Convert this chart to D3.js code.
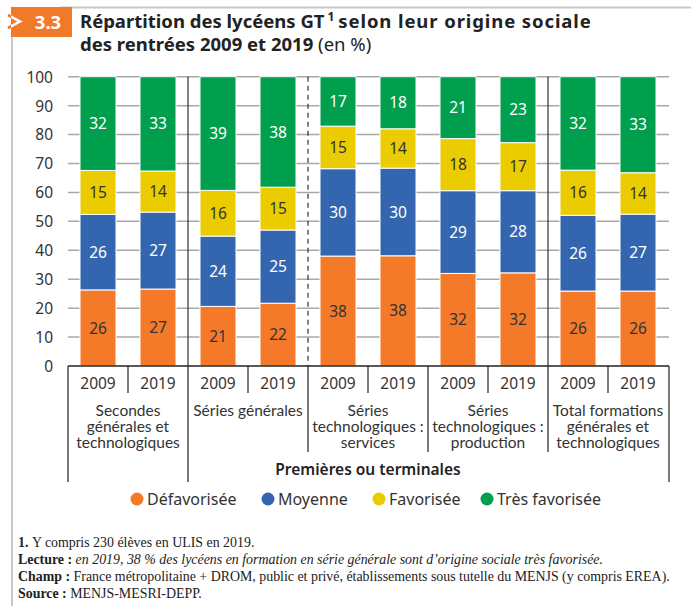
<!DOCTYPE html>
<html><head><meta charset="utf-8">
<script src="https://cdn.jsdelivr.net/npm/d3@7"></script>
<style>
html,body{margin:0;padding:0;background:#fff;}
svg{display:block;}
</style></head>
<body>
<script>
const categories = [
  ["Secondes", "générales et", "technologiques"],
  ["Séries générales"],
  ["Séries", "technologiques :", "services"],
  ["Séries", "technologiques :", "production"],
  ["Total formations", "générales et", "technologiques"]
];
const years = ["2009", "2019"];
const defavorisee   = [26.3, 26.6, 20.6, 21.7, 38.0, 38.1, 32.0, 32.2, 25.9, 25.9];
const moyenne       = [26.1, 26.6, 24.3, 25.3, 30.2, 30.3, 28.6, 28.4, 26.2, 26.6];
const favorisee     = [15.2, 14.2, 15.8, 14.8, 14.7, 13.6, 18.0, 16.6, 15.6, 14.3];
const tresFavorisee = [32.4, 32.6, 39.3, 38.2, 17.1, 18.0, 21.4, 22.8, 32.3, 33.2];
const seriesNames = ["Défavorisée", "Moyenne", "Favorisée", "Très favorisée"];
const yTicks = [0,10,20,30,40,50,60,70,80,90,100];
const groupLabel = "Premières ou terminales";
const footnotes = [
  [["1. ", "b"], ["Y compris 230 élèves en ULIS en 2019.", "n"]],
  [["Lecture : ", "b"], ["en 2019, 38 % des lycéens en formation en série générale sont d’origine sociale très favorisée.", "i"]],
  [["Champ : ", "b"], ["France métropolitaine + DROM, public et privé, établissements sous tutelle du MENJS (y compris EREA).", "n"]],
  [["Source : ", "b"], ["MENJS-MESRI-DEPP.", "n"]]
];

const colors = ["#F47A2A", "#3466B0", "#EACC00", "#009F4E"];
const textColors = ["#333", "#fff", "#333", "#fff"];
const FONT = "'Noto Sans', sans-serif";
const FONT2 = "Lato, 'Noto Sans', sans-serif";

const W = 691, H = 606;
const svg = d3.select("body").append("svg").attr("width", W).attr("height", H)
  .style("font-family", FONT);

// frame
svg.append("line").attr("x1",12).attr("x2",12).attr("y1",30).attr("y2",H).attr("stroke","#c8c8c8").attr("stroke-width",2);
svg.append("line").attr("x1",60).attr("x2",W).attr("y1",7.5).attr("y2",7.5).attr("stroke","#c8c8c8").attr("stroke-width",2);

// title box
svg.append("rect").attr("x",11).attr("y",7).attr("width",61).attr("height",30).attr("fill","#F07A2A");
svg.append("defs").append("clipPath").attr("id","boxclip").append("rect").attr("x",11).attr("y",7).attr("width",61).attr("height",30);
const chev = "M8,15 L20,21.5 L8,28";
svg.append("path").attr("d",chev).attr("fill","none").attr("stroke","#F07A2A").attr("stroke-width",2.6);
svg.append("path").attr("d",chev).attr("fill","none").attr("stroke","#fff").attr("stroke-width",2.6).attr("clip-path","url(#boxclip)");
svg.append("text").attr("x",48).attr("y",28.5).attr("text-anchor","middle").attr("fill","#fff")
  .attr("font-weight","bold").attr("font-size",18.5).text("3.3");

const t1 = svg.append("text").attr("x",80).attr("y",28).attr("fill","#222").attr("font-size",18.5).attr("font-weight","bold");
t1.append("tspan").text("Répartition des lycéens GT");
t1.append("tspan").attr("font-size",12).attr("dy",-7).attr("dx",3).text("1");
t1.append("tspan").attr("dy",7).attr("dx",4).attr("letter-spacing",0.9).text("selon leur origine sociale");
const t2 = svg.append("text").attr("x",80).attr("y",51).attr("fill","#222").attr("font-size",18.5);
t2.append("tspan").attr("font-weight","bold").text("des rentrées 2009 et 2019");
t2.append("tspan").attr("font-weight","normal").text(" (en %)");

// scales
const left = 68, right = 668;
const idx = d3.range(defavorisee.length);
const x = d3.scaleBand().domain(idx).range([left, right]).paddingInner(0.4).paddingOuter(0.2);
const y = d3.scaleLinear().domain([0,100]).range([366, 76.7]);

// grid
svg.append("g").selectAll("line").data(yTicks.filter(d=>d>0)).join("line")
  .attr("x1", left).attr("x2", right+1).attr("y1", d=>y(d)).attr("y2", d=>y(d))
  .attr("stroke","#a8a8a8").attr("stroke-width",1.5);

// y axis labels
const yAxis = d3.axisLeft(y).tickValues(yTicks).tickSize(0).tickPadding(0);
const ya = svg.append("g").attr("transform","translate(53,0)").call(yAxis);
ya.select(".domain").remove();
ya.selectAll("text").attr("font-size",15.5).attr("font-family",FONT).attr("fill","#333").attr("dy","0.35em");

const bnd = i => x(i) - x.step()*x.paddingInner()/2;
// separators in plot
[2,8].forEach(i=>{
  svg.append("line").attr("x1",bnd(i)).attr("x2",bnd(i)).attr("y1",y(100)).attr("y2",y(0)).attr("stroke","#333").attr("stroke-width",1.2);
});
svg.append("line").attr("x1",bnd(4)).attr("x2",bnd(4)).attr("y1",y(100)).attr("y2",y(0)).attr("stroke","#333").attr("stroke-width",1.2).attr("stroke-dasharray","5,4");

// stacked bars
const rows = idx.map(i => ({i, v:[defavorisee[i], moyenne[i], favorisee[i], tresFavorisee[i]]}));
const stack = d3.stack().keys([0,1,2,3]).value((d,k)=>d.v[k]);
const stacked = stack(rows);
stacked.forEach((layer, k) => {
  const g = svg.append("g");
  g.selectAll("rect").data(layer).join("rect")
    .attr("x", d=>x(d.data.i)).attr("width", x.bandwidth())
    .attr("y", d=>y(d[1])).attr("height", d=>y(d[0])-y(d[1]))
    .attr("fill", colors[k]).attr("stroke","#fff").attr("stroke-width",1);
  g.selectAll("text").data(layer).join("text")
    .attr("x", d=>x(d.data.i)+x.bandwidth()/2).attr("y", d=>y((d[0]+d[1])/2))
    .attr("dy","0.36em").attr("text-anchor","middle").attr("font-size",15.5)
    .attr("fill", textColors[k]).text(d=>Math.round(d.data.v[k]));
});

// bottom table
const base = y(0);
svg.append("line").attr("x1",left).attr("x2",right+1).attr("y1",base).attr("y2",base).attr("stroke","#222").attr("stroke-width",1.5);
[1,3,5,7,9].forEach(i=>{
  svg.append("line").attr("x1",bnd(i)).attr("x2",bnd(i)).attr("y1",base).attr("y2",393).attr("stroke","#222").attr("stroke-width",1.2);
});
[4,6,8].forEach(i=>{
  svg.append("line").attr("x1",bnd(i)).attr("x2",bnd(i)).attr("y1",base).attr("y2",452).attr("stroke","#222").attr("stroke-width",1.2);
});
[0,2,10].forEach(i=>{
  const xx = i===10 ? right+1 : bnd(i);
  svg.append("line").attr("x1",xx).attr("x2",xx).attr("y1",base).attr("y2",482).attr("stroke","#222").attr("stroke-width",1.2);
});
// year labels
svg.append("g").selectAll("text").data(idx).join("text")
  .attr("x", i=>x(i)+x.bandwidth()/2).attr("y",383).attr("dy","0.36em")
  .attr("text-anchor","middle").attr("font-size",15.5).attr("fill","#333")
  .text(i=>years[i%2]);
// category labels
categories.forEach((lines, c)=>{
  const cx = (x(2*c) + x(2*c+1) + x.bandwidth())/2;
  const tx = svg.append("text").attr("text-anchor","middle").attr("font-size",15.5)
    .attr("font-family",FONT2).attr("fill","#333");
  lines.forEach((l, j)=>{
    tx.append("tspan").attr("x",cx).attr("y",410 + j*16).attr("dy","0.36em").text(l);
  });
});
svg.append("text").attr("x",(bnd(2)+bnd(8))/2).attr("y",469).attr("dy","0.36em")
  .attr("text-anchor","middle").attr("font-size",15.5).attr("font-weight",600).attr("fill","#222").text(groupLabel);

// legend
const legX = [137, 268, 379, 487];
const leg = svg.append("g");
seriesNames.forEach((n,k)=>{
  leg.append("circle").attr("cx",legX[k]).attr("cy",499).attr("r",6.5).attr("fill",colors[k]);
  leg.append("text").attr("x",legX[k]+10).attr("y",499).attr("dy","0.36em").attr("font-size",16).attr("fill","#333").text(n);
});

// footnotes
const fn = svg.append("g").attr("font-family","'Liberation Serif', serif").attr("font-size",13.9).attr("fill","#222");
footnotes.forEach((parts, j)=>{
  const t = fn.append("text").attr("x",18).attr("y",547 + j*17);
  parts.forEach(([s, st])=>{
    const sp = t.append("tspan").text(s);
    if (st==="b") sp.attr("font-weight","bold");
    if (st==="i") sp.attr("font-style","italic");
  });
});
</script>
</body></html>
